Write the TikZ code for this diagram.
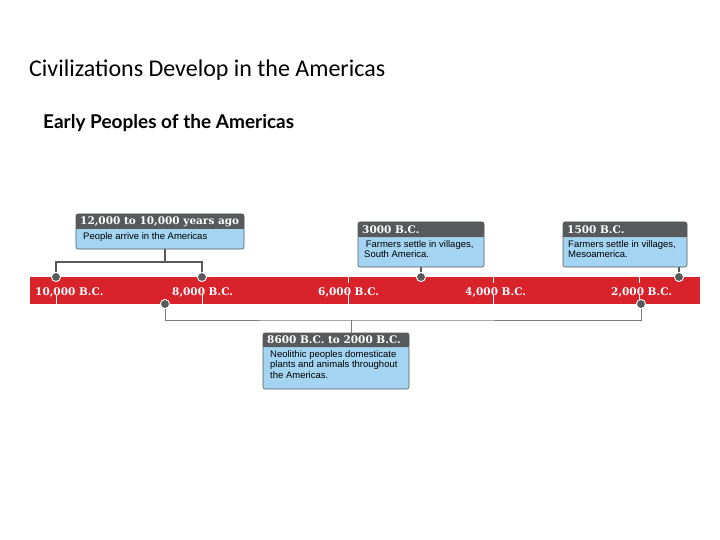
\documentclass[tikz,border=0pt]{standalone}
\usepackage{fontspec}
\setmainfont{Liberation Sans}
\newfontfamily\titlef{Carlito}
\newfontfamily\subf{Lato}
\newfontfamily\slab{DejaVu Serif}
\definecolor{barred}{HTML}{D9232B}
\definecolor{hdr}{HTML}{58595B}
\definecolor{bodyb}{HTML}{A3D4F2}
\definecolor{lin}{HTML}{58595B}
\begin{document}
\begin{tikzpicture}[x=1pt,y=-1pt,
  lab/.style={text=white,font=\slab\bfseries\fontsize{10.5}{12}\selectfont,anchor=west,inner sep=0},
  hd/.style={text=white,font=\slab\bfseries\fontsize{10.5}{12}\selectfont,anchor=west,inner sep=0},
  bd/.style={text=black,font=\fontsize{9.5}{10.5}\selectfont,anchor=north west,inner sep=0,align=left},
  conn/.style={draw=lin,line width=1.3pt},
  dot/.style={circle,fill=lin,draw=white,line width=0.8pt,minimum size=9pt,inner sep=0}]
\useasboundingbox (0,0) rectangle (720,540);
\node[anchor=base west,inner sep=0,font=\titlef\fontsize{24}{28}\selectfont] (t) at (29,77) {Civilizations Develop in the Americas};
\node[anchor=base west,inner sep=0,font=\subf\bfseries\fontsize{19}{22}\selectfont] (s) at (43,129) {Early Peoples of the Americas};
% bar
\fill[barred] (30,277) rectangle (700,304);
\foreach \x in {56,202,348,493,639} \draw[white,line width=0.5pt] (\x,295) -- (\x,304);
\foreach \x in {348,493,639} \draw[white,line width=0.5pt] (\x,277) -- (\x,283);
\node[lab] (l1) at (35,292) {10,000 B.C.};
\node[lab] (l2) at (172,292) {8,000 B.C.};
\node[lab] (l3) at (318,292) {6,000 B.C.};
\node[lab] (l4) at (465,292) {4,000 B.C.};
\node[lab] (l5) at (611,292) {2,000 B.C.};
% boxes
\newcommand{\tbox}[7]{%
  \fill[bodyb,rounded corners=2pt] (#1,#2) rectangle (#3,#4);
  \draw[lin,rounded corners=2pt,line width=0.6pt] (#1,#2) rectangle (#3,#4);
  \fill[hdr,rounded corners=2pt] (#1,#2) rectangle (#3,#5);
  \fill[hdr] (#1,#5-3) rectangle (#3,#5);
  \node[hd] (#7h) at (#1+4,{(#2+#5)/2}) {#6};}
\tbox{76}{214}{244}{249}{229}{12,000 to 10,000 years ago}{a}
\node[bd] (ab) at (83,232) {People arrive in the Americas};
\tbox{358}{222}{484}{267}{237}{3000 B.C.}{b}
\node[bd] (bb) at (364,240) {\,Farmers settle in villages,\\South America.};
\tbox{563}{222}{687}{267}{237}{1500 B.C.}{c}
\node[bd] (cb) at (568,240) {Farmers settle in villages,\\Mesoamerica.};
\tbox{263}{333}{409}{389}{347}{8600 B.C. to 2000 B.C.}{d}
\node[bd] (db) at (270,350) {Neolithic peoples domesticate\\plants and animals throughout\\the Americas.};
% dots
\node[dot] (p1) at (56,277) {};
\node[dot] (p2) at (202,277) {};
\node[dot] (p3) at (421,277) {};
\node[dot] (p4) at (679,277) {};
\node[dot] (q1) at (165,304) {};
\node[dot] (q2) at (641,304) {};
\coordinate (a0) at (165,249);
\coordinate (j1) at (165,262);
\coordinate (b0) at (421,267);
\coordinate (c0) at (679,267);
\coordinate (j2) at (351,320);
\coordinate (d0) at (351,333);
\draw[conn] (a0) -- (j1);
\draw[conn] (p1) |- (j1) -| (p2);
\draw[conn] (b0) -- (p3);
\draw[conn] (c0) -- (p4);
\draw[conn,line width=1pt,draw=lin!80] (q1) |- (j2) -| (q2);
\draw[conn,line width=1pt,draw=lin!80] (j2) -- (d0);
\foreach \p in {p1,p2,p3,p4,q1,q2} \node[dot] at (\p) {};
\end{tikzpicture}
\end{document}
